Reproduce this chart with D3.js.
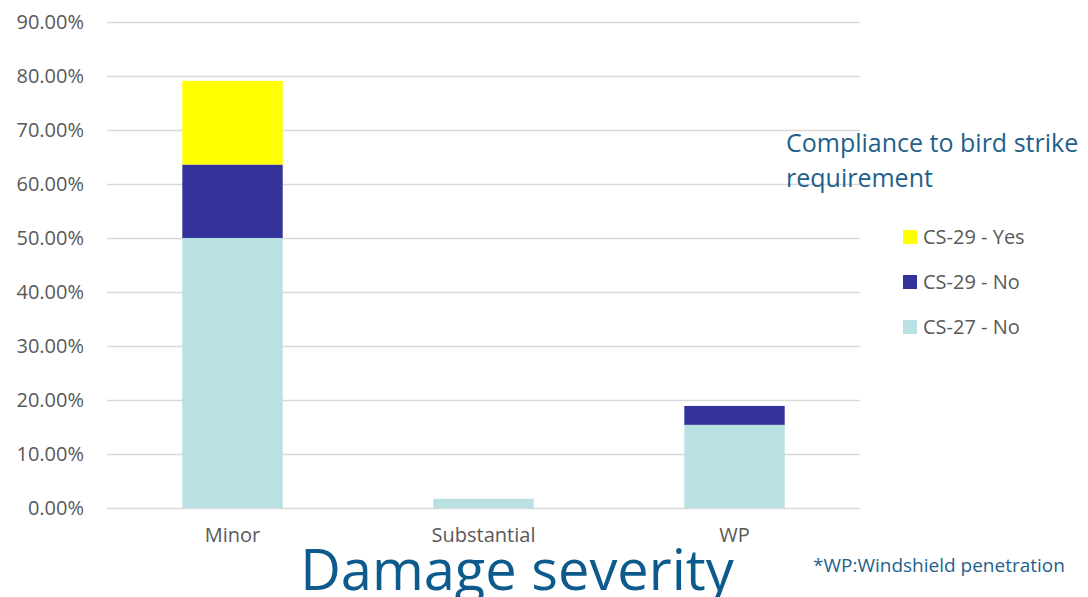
<!DOCTYPE html>
<html>
<head>
<meta charset="utf-8">
<script src="https://cdn.jsdelivr.net/npm/d3@7"></script>
<style>
  body { margin: 0; background: #fff; }
  svg text { font-family: "Open Sans", "Noto Sans", sans-serif; }
</style>
</head>
<body>
<script>
// chart data (percent)
const categories = ["Minor", "Substantial", "WP"];
const seriesNames = ["CS-27 - No", "CS-29 - No", "CS-29 - Yes"];
const cs27No = [50.0, 1.7, 15.4];
const cs29No = [13.6, 0, 3.5];
const cs29Yes = [15.5, 0, 0];
const yTicks = [0, 10, 20, 30, 40, 50, 60, 70, 80, 90];
const seriesColors = ["#b9e0e3", "#333399", "#ffff00"];

const width = 1088, height = 597;
const margin = { top: 22, left: 107, right: 228, bottom: 89 };

const svg = d3.select("body").append("svg")
	.attr("width", width)
	.attr("height", height);

const x = d3.scaleBand()
	.domain(categories)
	.range([margin.left, width - margin.right])
	.paddingInner(0.6)
	.paddingOuter(0.3);

const y = d3.scaleLinear()
	.domain([0, 90])
	.range([height - margin.bottom, margin.top]);

// gridlines + y labels
const yAxis = d3.axisLeft(y)
	.tickValues(yTicks)
	.tickSize(-(width - margin.right - margin.left))
	.tickPadding(23)
	.tickFormat(d => d.toFixed(2) + "%");

const gy = svg.append("g")
	.attr("transform", `translate(${margin.left},0)`)
	.call(yAxis);
gy.select(".domain").remove();
gy.selectAll(".tick line").attr("stroke", "#d9d9d9").attr("stroke-width", 1.3);
gy.selectAll(".tick text")
	.attr("fill", "#595959")
	.style("font-size", "20px");

// stacked bars
const rows = categories.map((c, i) => ({
	cat: c, "CS-27 - No": cs27No[i], "CS-29 - No": cs29No[i], "CS-29 - Yes": cs29Yes[i]
}));
const stacked = d3.stack().keys(seriesNames)(rows);

svg.append("g").selectAll("g")
	.data(stacked)
	.enter().append("g")
	.attr("fill", (d, i) => seriesColors[i])
	.selectAll("rect")
	.data(d => d)
	.enter().append("rect")
	.attr("x", d => x(d.data.cat))
	.attr("width", x.bandwidth())
	.attr("y", d => y(d[1]))
	.attr("height", d => y(d[0]) - y(d[1]));

// category labels
const xAxis = d3.axisBottom(x).tickSize(0).tickPadding(20);
const gx = svg.append("g")
	.attr("transform", `translate(0,${y(0)})`)
	.call(xAxis);
gx.select(".domain").remove();
gx.selectAll(".tick text")
	.attr("fill", "#595959")
	.style("font-size", "20px");

// legend
const legTitle = svg.append("text")
	.attr("x", 786)
	.attr("y", 152)
	.attr("fill", "#1f5f8b")
	.style("font-size", "25px");
legTitle.append("tspan").attr("x", 786).text("Compliance to bird strike");
legTitle.append("tspan").attr("x", 786).attr("dy", 35).text("requirement");

const legendOrder = [2, 1, 0];
const leg = svg.append("g").selectAll("g")
	.data(legendOrder)
	.enter().append("g")
	.attr("transform", (d, i) => `translate(903,${230 + i * 45})`);
leg.append("rect")
	.attr("width", 14)
	.attr("height", 14)
	.attr("fill", d => seriesColors[d]);
leg.append("text")
	.attr("x", 20)
	.attr("y", 14)
	.attr("fill", "#595959")
	.style("font-size", "20px")
	.text(d => seriesNames[d]);

// axis title + footnote
svg.append("text")
	.attr("x", 517)
	.attr("y", 590)
	.attr("text-anchor", "middle")
	.attr("fill", "#0d5a8c")
	.style("font-size", "56px")
	.text("Damage severity");

svg.append("text")
	.attr("x", 813)
	.attr("y", 572)
	.attr("fill", "#1f5f8b")
	.style("font-size", "19px")
	.text("*WP:Windshield penetration");
</script>
</body>
</html>
